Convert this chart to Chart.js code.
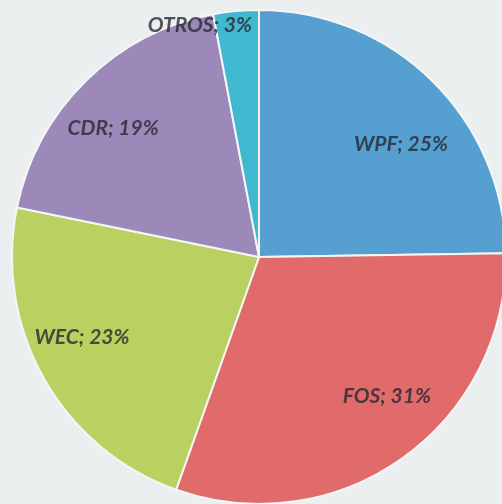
<!DOCTYPE html>
<html lang="es">
<head>
    <meta charset="UTF-8">
    <title>Distribución</title>
    <script src="https://cdn.jsdelivr.net/npm/chart.js@4.4.0/dist/chart.umd.min.js"></script>
    <style>
        html, body {
            margin: 0;
            padding: 0;
            overflow: hidden;
            background: #eceff0;
        }
        #chartBox {
            position: absolute;
            left: 11px;
            top: 9px;
            width: 496px;
            height: 496px;
        }
    </style>
</head>
<body>
    <div id="chartBox">
        <canvas id="pieChart"></canvas>
    </div>

    <script>
        const categories = ['WPF', 'FOS', 'WEC', 'CDR', 'OTROS'];
        const percents = [25, 31, 23, 19, 3];
        const sliceColors = ['#559fd1', '#e16b6b', '#b8d160', '#9c89ba', '#40b9d0'];

        // label placement (fraction of radius + small nudge in px)
        const labelRadius = [0.75, 0.77, 0.79, 0.79, 0.96];
        const labelNudge = [[12, 19], [17, -15], [-7, -16], [-9, 10], [-37, 4]];

        const sliceLabels = {
            id: 'sliceLabels',
            afterDatasetsDraw(chart) {
                const ctx = chart.ctx;
                const meta = chart.getDatasetMeta(0);
                ctx.save();
                ctx.font = 'italic bold 21px Lato, "Open Sans", sans-serif';
                ctx.textAlign = 'center';
                ctx.textBaseline = 'middle';
                ctx.fillStyle = 'rgba(40, 40, 52, 0.8)';
                meta.data.forEach((arc, i) => {
                    const p = arc.getProps(['x', 'y', 'startAngle', 'endAngle', 'outerRadius'], true);
                    const mid = (p.startAngle + p.endAngle) / 2;
                    const r = p.outerRadius * labelRadius[i];
                    const x = p.x + Math.cos(mid) * r + labelNudge[i][0];
                    const y = p.y + Math.sin(mid) * r + labelNudge[i][1];
                    ctx.fillText(categories[i] + '; ' + percents[i] + '%', x, y);
                });
                ctx.restore();
            }
        };

        new Chart(document.getElementById('pieChart'), {
            type: 'pie',
            data: {
                labels: categories,
                datasets: [{
                    data: percents,
                    backgroundColor: sliceColors,
                    borderColor: '#f4f6f6',
                    borderWidth: 2
                }]
            },
            options: {
                responsive: true,
                maintainAspectRatio: false,
                animation: false,
                layout: { padding: 0 },
                plugins: {
                    legend: { display: false },
                    tooltip: { enabled: false }
                }
            },
            plugins: [sliceLabels]
        });
    </script>
</body>
</html>
